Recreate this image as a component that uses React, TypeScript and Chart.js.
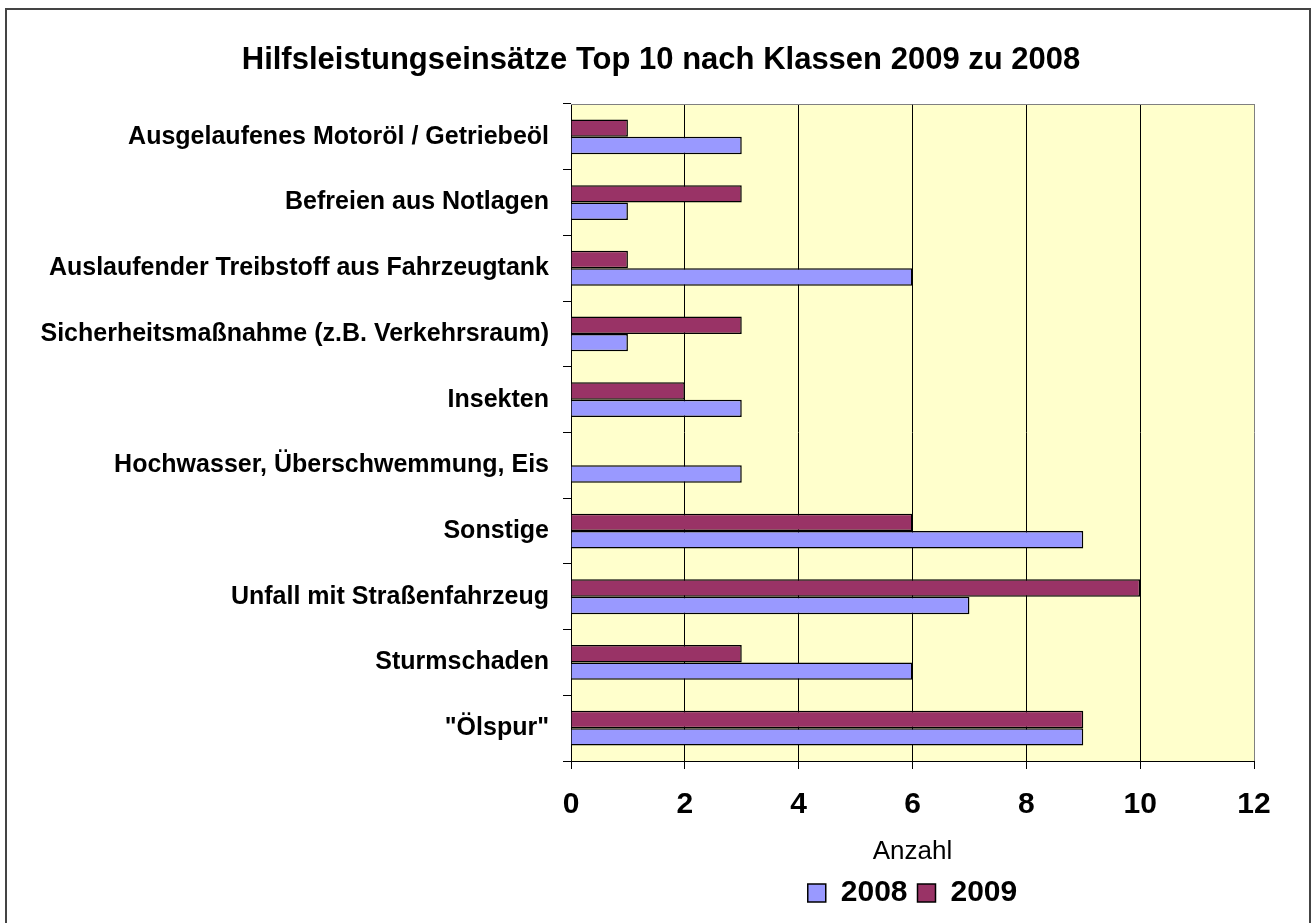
import React, { useEffect, useRef } from "react";
import { Chart, registerables } from "chart.js";

Chart.register(...registerables);

const titleText = "Hilfsleistungseinsätze Top 10 nach Klassen 2009 zu 2008";
const categories = [
  "Ausgelaufenes Motoröl / Getriebeöl",
  "Befreien aus Notlagen",
  "Auslaufender Treibstoff aus Fahrzeugtank",
  "Sicherheitsmaßnahme (z.B. Verkehrsraum)",
  "Insekten",
  "Hochwasser, Überschwemmung, Eis",
  "Sonstige",
  "Unfall mit Straßenfahrzeug",
  "Sturmschaden",
  "\"Ölspur\"",
];
const values2009 = [1, 3, 1, 3, 2, 0, 6, 10, 3, 9];
const values2008 = [3, 1, 6, 1, 3, 3, 9, 7, 6, 9];
const xAxisTitle = "Anzahl";
const xMin = 0;
const xMax = 12;
const xStep = 2;

const FONT = "'Liberation Sans', Arial, Helvetica, sans-serif";

const plotBg = {
  id: "plotBg",
  beforeDraw(chart: any) {
    const { ctx, chartArea } = chart;
    if (!chartArea) return;
    ctx.save();
    ctx.fillStyle = "#FFFFCC";
    ctx.fillRect(chartArea.left, chartArea.top, chartArea.right - chartArea.left, chartArea.bottom - chartArea.top);
    ctx.restore();
  },
  beforeDatasetsDraw(chart: any) {
    const { ctx, chartArea } = chart;
    ctx.save();
    ctx.strokeStyle = "#808080";
    ctx.lineWidth = 1;
    ctx.beginPath();
    ctx.moveTo(chartArea.left, Math.round(chartArea.top) + 0.5);
    ctx.lineTo(chartArea.right, Math.round(chartArea.top) + 0.5);
    ctx.stroke();
    ctx.restore();
  },
};

export default function App() {
  const ref = useRef<HTMLCanvasElement | null>(null);

  useEffect(() => {
    if (!ref.current) return;
    const chart = new Chart(ref.current, {
      type: "bar",
      data: {
        labels: categories,
        datasets: [
          {
            label: "2009",
            data: values2009,
            backgroundColor: "#993366",
            borderColor: "#000000",
            borderWidth: 1.5,
            categoryPercentage: 0.53,
            barPercentage: 1,
          },
          {
            label: "2008",
            data: values2008,
            backgroundColor: "#9999FF",
            borderColor: "#000000",
            borderWidth: 1.5,
            categoryPercentage: 0.53,
            barPercentage: 1,
          },
        ],
      },
      options: {
        indexAxis: "y",
        responsive: false,
        animation: false,
        layout: { padding: { left: 68, right: 62, top: 0, bottom: 5 } },
        scales: {
          x: {
            min: xMin,
            max: xMax,
            ticks: {
              stepSize: xStep,
              color: "#000",
              padding: 21,
              font: { family: FONT, size: 30, weight: "bold", lineHeight: 1 },
            },
            grid: {
              color: (c: any) => (c.tick && c.tick.value === xMax ? "#808080" : "#000000"),
              tickColor: "#000000",
              tickLength: 8,
              lineWidth: 1,
            },
            border: { color: "#000000", width: 1 },
            title: {
              display: true,
              text: xAxisTitle,
              color: "#000",
              font: { family: FONT, size: 26, lineHeight: 1 },
              padding: { top: 0, bottom: 3 },
            },
            afterFit: (scale: any) => {
              scale.height = 107;
            },
          },
          y: {
            ticks: {
              color: "#000",
              padding: 14,
              font: { family: FONT, size: 25, weight: "bold" },
            },
            grid: {
              offset: true,
              drawOnChartArea: false,
              tickColor: "#000000",
              tickLength: 8,
            },
            border: { color: "#000000", width: 1 },
            afterFit: (scale: any) => {
              scale.width = 503;
              scale._computeLabelArea = () => undefined;
            },
          },
        },
        plugins: {
          title: {
            display: true,
            text: titleText,
            color: "#000",
            font: { family: FONT, size: 31, weight: "bold", lineHeight: 1 },
            padding: { top: 45, bottom: 28 },
          },
          legend: {
            position: "bottom",
            fullSize: false,
            labels: {
              color: "#000",
              boxWidth: 18,
              boxHeight: 18,
              padding: 10,
              font: { family: FONT, size: 30, weight: "bold" },
              sort: (a: any, b: any) => b.datasetIndex - a.datasetIndex,
            },
          },
          tooltip: { enabled: false },
        },
      },
      plugins: [plotBg],
    } as any);
    return () => chart.destroy();
  }, []);

  return (
    <div style={{ position: "absolute", left: 0, top: 0, width: 1316, height: 923, overflow: "hidden", background: "#fff" }}>
      <div
        style={{
          position: "absolute",
          left: 5,
          top: 8,
          width: 1306,
          height: 940,
          border: "2px solid #444",
          boxSizing: "border-box",
        }}
      />
      <canvas ref={ref} width={1316} height={923} style={{ position: "absolute", left: 0, top: 0, display: "block" }} />
    </div>
  );
}
